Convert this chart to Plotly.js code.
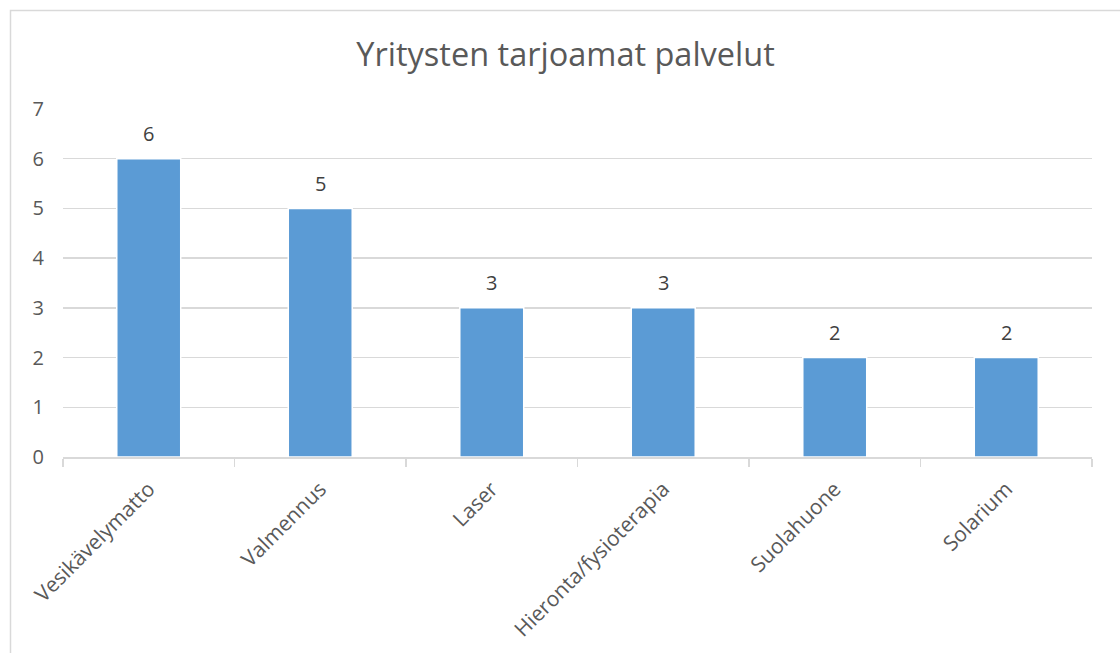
<!DOCTYPE html>
<html>
<head>
<meta charset="utf-8">
<script src="https://cdn.plot.ly/plotly-3.0.1.min.js"></script>
<style>
  html, body { margin: 0; padding: 0; background: #fff; }
  #chart { width: 1120px; height: 653px; }
</style>
</head>
<body>
<div id="chart"></div>
<script>
const categories = ["Vesikävelymatto", "Valmennus", "Laser", "Hieronta/fysioterapia", "Suolahuone", "Solarium"];
const values = [6, 5, 3, 3, 2, 2];
const yTicks = [0, 1, 2, 3, 4, 5, 6, 7];

const FONT = '"Open Sans", "Noto Sans", sans-serif';
const TEXT = '#595959';
const GRID = '#D9D9D9';

const trace = {
  type: 'bar',
  x: categories,
  y: values,
  marker: { color: '#5B9BD5', line: { color: '#FFFFFF', width: 1.5 } },
  hoverinfo: 'x+y'
};

const labels = categories.map((c, i) => ({
  x: c, y: values[i], xref: 'x', yref: 'y',
  text: String(values[i]),
  showarrow: false,
  yanchor: 'middle', xanchor: 'center',
  yshift: 25,
  font: { family: FONT, size: 20, color: '#404040' }
}));

const plotL = 63, plotR = 1092, plotT = 109, plotB = 457;
const pw = plotR - plotL, ph = plotB - plotT;

const layout = {
  width: 1120,
  height: 653,
  margin: { l: plotL, r: 1120 - plotR, t: plotT, b: 653 - plotB },
  paper_bgcolor: '#FFFFFF',
  plot_bgcolor: '#FFFFFF',
  showlegend: false,
  bargap: 0.627,
  title: {
    text: 'Yritysten tarjoamat palvelut',
    font: { family: FONT, size: 32.5, color: TEXT },
    x: 0.505, xanchor: 'center',
    y: 1 - 55 / 653, yanchor: 'middle'
  },
  xaxis: {
    type: 'category',
    tickson: 'boundaries',
    ticks: 'outside',
    ticklen: 8,
    tickcolor: GRID,
    tickwidth: 1.5,
    showline: true,
    linecolor: GRID,
    linewidth: 1.5,
    showgrid: false,
    tickangle: -45,
    ticklabelstandoff: 10,
    tickfont: { family: FONT, size: 21, color: TEXT },
    fixedrange: true
  },
  yaxis: {
    range: [0, 7],
    tickvals: yTicks,
    ticktext: yTicks.map(String),
    showgrid: true,
    gridcolor: GRID,
    gridwidth: 1.5,
    zeroline: false,
    showline: false,
    ticks: '',
    ticklabelstandoff: 18,
    tickfont: { family: FONT, size: 20, color: TEXT },
    fixedrange: true
  },
  annotations: labels,
  shapes: [{
    type: 'rect',
    xref: 'paper', yref: 'paper',
    x0: (10.5 - plotL) / pw,
    x1: (1130 - plotL) / pw,
    y0: (plotB - 670) / ph,
    y1: (plotB - 10.5) / ph,
    line: { color: GRID, width: 1.5 },
    fillcolor: 'rgba(0,0,0,0)',
    layer: 'below'
  }]
};

Plotly.newPlot('chart', [trace], layout, { displayModeBar: false, staticPlot: true });
</script>
</body>
</html>
